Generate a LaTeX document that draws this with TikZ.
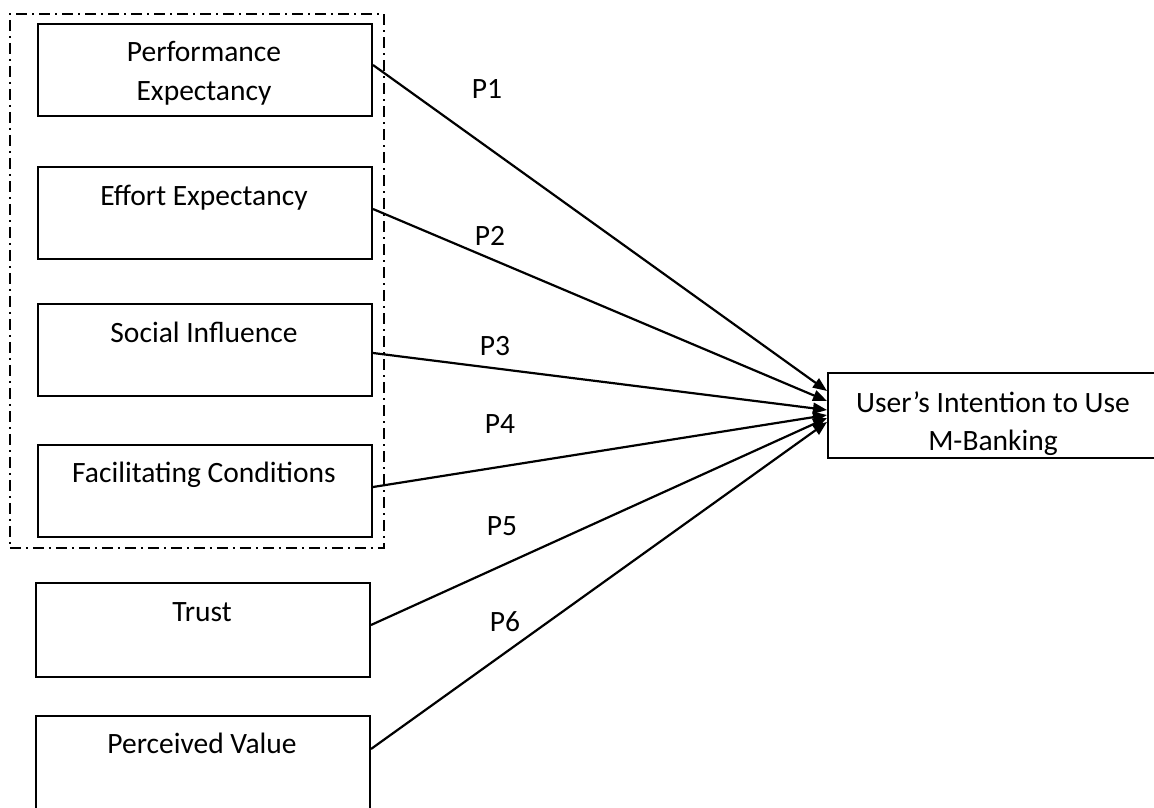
\documentclass[tikz,border=0pt]{standalone}
\usepackage{fontspec}
\setmainfont{Carlito}
\usetikzlibrary{arrows.meta}
\begin{document}
\begin{tikzpicture}[x=1pt,y=-1pt,
  box/.style={draw, line width=2pt, inner sep=0pt, minimum width=334pt, minimum height=92pt, anchor=north west},
  grp/.style={draw, line width=1.6pt, inner sep=0pt, dash pattern=on 11pt off 5pt on 2pt off 5pt, anchor=north west},
  lbl/.style={font=\fontsize{29.5}{38}\selectfont, anchor=base, inner sep=0pt},
  conn/.style={line width=2.2pt, -{Triangle[length=14pt,width=11pt]}}]
\useasboundingbox (0,0) rectangle (1154,808);
\begin{scope}
\clip (0,0) rectangle (1154,808);
% group frame
\node[grp, minimum width=374pt, minimum height=534pt] (grpbox) at (9,13) {};
% boxes
\node[box] (b1) at (37,23) {};
\node[box] (b2) at (37,166) {};
\node[box] (b3) at (37,303) {};
\node[box] (b4) at (37,444) {};
\node[box, minimum height=94pt] (b5) at (35,582) {};
\node[box, minimum height=100pt] (b6) at (35,715) {};
\node[box, minimum width=333pt, minimum height=85pt] (tg) at (827,372) {};
% texts
\node[lbl] (t1a) at (204,62) {Performance};
\node[lbl] (t1b) at (204,100) {Expectancy};
\node[lbl] (t2) at (204,205) {Effort Expectancy};
\node[lbl] (t3) at (204,342) {Social Influence};
\node[lbl] (t4) at (204,482) {Facilitating Conditions};
\node[lbl] (t5) at (202,621) {Trust};
\node[lbl] (t6) at (202,753) {Perceived Value};
\node[lbl] (tta) at (993,412) {User’s Intention to Use};
\node[lbl] (ttb) at (993,450) {M-Banking};
% connectors
\draw[conn] ([yshift=-42pt]b1.north east) -- ([yshift=-19pt]tg.north west);
\draw[conn] ([yshift=-43pt]b2.north east) -- ([yshift=-29pt]tg.north west);
\draw[conn] ([yshift=-50pt]b3.north east) -- ([yshift=-38pt]tg.north west);
\draw[conn] ([yshift=-43pt]b4.north east) -- ([yshift=-43pt]tg.north west);
\draw[conn] ([yshift=-43pt]b5.north east) -- ([yshift=-46pt]tg.north west);
\draw[conn] ([yshift=-34pt]b6.north east) -- ([yshift=-50pt]tg.north west);
% path labels
\node[lbl] (p1) at (487,99) {P1};
\node[lbl] (p2) at (490,245) {P2};
\node[lbl] (p3) at (495,355) {P3};
\node[lbl] (p4) at (500,433) {P4};
\node[lbl] (p5) at (502,535) {P5};
\node[lbl] (p6) at (505,631) {P6};
\end{scope}
\end{tikzpicture}
\end{document}
